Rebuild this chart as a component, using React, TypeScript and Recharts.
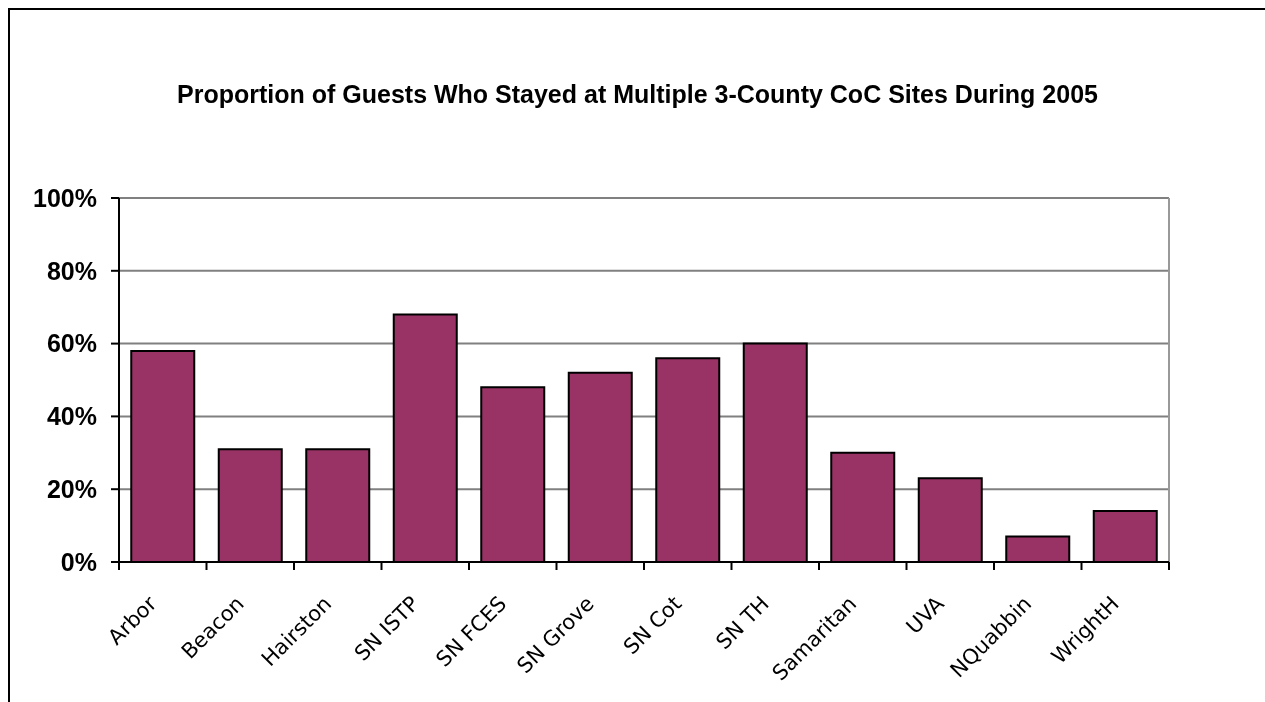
import React from 'react';
import { BarChart, Bar, XAxis, YAxis, CartesianGrid } from 'recharts';

const categories = ['Arbor', 'Beacon', 'Hairston', 'SN ISTP', 'SN FCES', 'SN Grove', 'SN Cot', 'SN TH', 'Samaritan', 'UVA', 'NQuabbin', 'WrightH'];
const values = [58, 31, 31, 68, 48, 52, 56, 60, 30, 23, 7, 14];
const yTicks = [0, 20, 40, 60, 80, 100];
const title = 'Proportion of Guests Who Stayed at Multiple 3-County CoC Sites During 2005';

const data = categories.map((name, i) => ({ name, value: values[i] }));

const TICK_LEN = 8;

const XTick = (props: any) => {
  const { x, y, payload, index, width } = props;
  const half = payload && payload.offset ? payload.offset : width / categories.length / 2;
  const axisY = y - TICK_LEN;
  const tx = x - 5;
  const ty = y + 35;
  return (
    <g>
      <line x1={x - half} x2={x - half} y1={axisY} y2={axisY + TICK_LEN} stroke="#000" strokeWidth={2} />
      {index === categories.length - 1 && (
        <line x1={x + half} x2={x + half} y1={axisY} y2={axisY + TICK_LEN} stroke="#000" strokeWidth={2} />
      )}
      <text
        x={tx}
        y={ty}
        textAnchor="end"
        transform={`rotate(-45 ${tx} ${ty})`}
        fontFamily="DejaVu Sans"
        fontSize={21}
        fill="#000"
      >
        {payload.value}
      </text>
    </g>
  );
};

export default function App() {
  return (
    <div style={{ position: 'relative', width: 1249, height: 686, background: '#fff' }}>
      <div
        style={{
          position: 'fixed',
          left: 8,
          top: 8,
          right: 0,
          bottom: 0,
          borderLeft: '2px solid #000',
          borderTop: '2px solid #000',
          pointerEvents: 'none',
        }}
      />
      <div
        style={{
          position: 'absolute',
          left: 0,
          top: 72,
          width: 1259,
          textAlign: 'center',
          fontFamily: '"Liberation Sans", Arial, sans-serif',
          fontWeight: 'bold',
          fontSize: 25,
          color: '#000',
          whiteSpace: 'nowrap',
        }}
      >
        {title}
      </div>
      <BarChart
        width={1249}
        height={686}
        data={data}
        margin={{ top: 190, right: 88, bottom: 32, left: 0 }}
        barCategoryGap="14%"
      >
        <CartesianGrid vertical={false} stroke="#808080" strokeWidth={2} />
        <CartesianGrid
          horizontal={false}
          stroke="#999999"
          strokeWidth={2}
          verticalCoordinatesGenerator={({ offset }: any) => [offset.left + offset.width]}
        />
        <XAxis
          dataKey="name"
          height={100}
          interval={0}
          tickLine={false}
          tickSize={TICK_LEN}
          tickMargin={0}
          axisLine={{ stroke: '#000', strokeWidth: 2 }}
          tick={<XTick />}
        />
        <YAxis
          width={111}
          domain={[0, 100]}
          ticks={yTicks}
          interval={0}
          tickFormatter={(v: number) => `${v}%`}
          tickSize={TICK_LEN}
          tickMargin={14}
          axisLine={{ stroke: '#000', strokeWidth: 2 }}
          tickLine={{ stroke: '#000', strokeWidth: 2 }}
          tick={{ fill: '#000', fontSize: 25, fontWeight: 'bold', fontFamily: '"Liberation Sans", Arial, sans-serif' }}
        />
        <Bar dataKey="value" fill="#993366" stroke="#000" strokeWidth={2} isAnimationActive={false} />
      </BarChart>
    </div>
  );
}
